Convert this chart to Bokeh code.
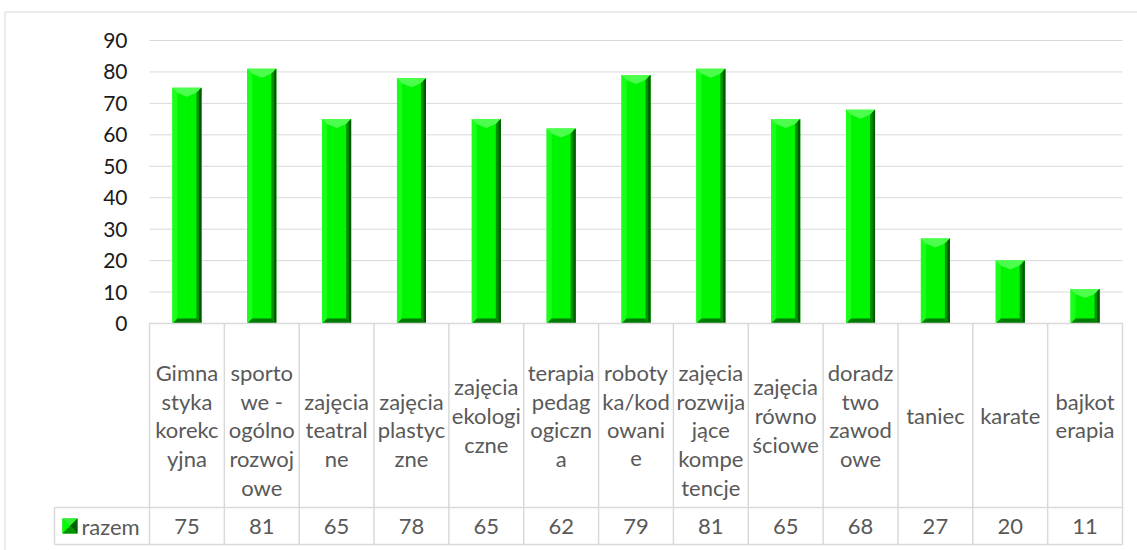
from bokeh.plotting import figure
from bokeh.models import Range1d, LinearAxis, FixedTicker
from bokeh.embed import file_html
from bokeh.resources import INLINE

# ---------------- data ----------------
categories = [
    "Gimna\nstyka\nkorekc\nyjna",
    "\nsporto\nwe -\nogólno\nrozwoj\nowe",
    "\nzajęcia\nteatral\nne",
    "\nzajęcia\nplastyc\nzne",
    "zajęcia\nekologi\nczne",
    "terapia\npedag\nogiczn\na",
    "roboty\nka/kod\nowani\ne",
    "\nzajęcia\nrozwija\njące\nkompe\ntencje",
    "zajęcia\nrówno\nściowe",
    "doradz\ntwo\nzawod\nowe",
    "taniec",
    "karate",
    "bajkot\nerapia",
]
series_name = "razem"
values = [75, 81, 65, 78, 65, 62, 79, 81, 65, 68, 27, 20, 11]
y_ticks = [0, 10, 20, 30, 40, 50, 60, 70, 80, 90]

# ---------------- layout (page pixels) ----------------
FIG_LEFT, FIG_TOP = 0, 0
W, H = 1137, 550
PA_L, PA_R = 149, 1122      # plot area left/right
Y0_PX, Y90_PX = 323, 40     # pixel rows of value 0 and 90
n = len(values)
ppx = (PA_R - PA_L) / n
ppy = (Y0_PX - Y90_PX) / (y_ticks[-1] - y_ticks[0])


def X(px):
    return (px - PA_L) / ppx


def Y(py):
    return (Y0_PX - py) / ppy


FONT = "Lato"
GRID = "#d9d9d9"
TXT = "#595959"

p = figure(
    width=W, height=H,
    x_range=Range1d(X(FIG_LEFT), X(FIG_LEFT + W)),
    y_range=Range1d(Y(FIG_TOP + H), Y(FIG_TOP)),
    output_backend="svg", toolbar_location=None,
    x_axis_location=None, y_axis_location=None,
    min_border=0,
)
p.outline_line_color = None
p.background_fill_color = "white"
p.border_fill_color = "white"
p.grid.visible = False

# outer chart border (left + top)
p.segment(x0=[X(4.5), X(4.5)], y0=[Y(11.5), Y(11.5)],
          x1=[X(4.5), X(FIG_LEFT + W + 5)], y1=[Y(FIG_TOP + H + 5), Y(11.5)],
          line_color=GRID, line_width=1)

# gridlines
p.segment(x0=[0] * len(y_ticks), x1=[n] * len(y_ticks), y0=y_ticks, y1=y_ticks,
          line_color=GRID, line_width=1)

# y axis labels
yax = LinearAxis(fixed_location=0, ticker=FixedTicker(ticks=y_ticks))
yax.axis_line_color = None
yax.major_tick_line_color = None
yax.minor_tick_line_color = None
yax.major_tick_in = 0
yax.major_tick_out = 0
yax.major_label_standoff = 22
yax.major_label_text_font = FONT
yax.major_label_text_font_size = "21px"
yax.major_label_text_color = "#1a1a1a"
p.add_layout(yax, "left")

# ---------------- bars with bevel ----------------
BW = 29 / ppx
bx = 5 / ppx
by = 5 / ppy
xc = [i + 0.5 for i in range(n)]
p.vbar(x=xc, top=values, bottom=0, width=BW, fill_color="#00f500", line_color=None)

left_x, left_y, top_x, top_y = [], [], [], []
right_x, right_y, rout_x, rout_y, bot_x, bot_y = [], [], [], [], [], []
for c, v in zip(xc, values):
    x0, x1, y0, y1 = c - BW / 2, c + BW / 2, 0, v
    left_x.append([x0, x0 + bx, x0 + bx, x0]); left_y.append([y0, y0 + by, y1 - by, y1])
    top_x.append([x0, x1, x1 - bx, c, x0 + bx]); top_y.append([y1, y1, y1 - by, y1 - 1.8 * by, y1 - by])
    right_x.append([x1, x1 - bx, x1 - bx, x1]); right_y.append([y0, y0 + by, y1 - by, y1])
    rout_x.append([x1, x1 - bx * 0.45, x1 - bx * 0.45, x1]); rout_y.append([y0, y0 + by * 0.45, y1 - by * 0.45, y1])
    bot_x.append([x0, x1, x1 - bx, x0 + bx]); bot_y.append([y0, y0, y0 + by, y0 + by])
p.patches(left_x, left_y, fill_color="#19ff19", line_color=None)
p.patches(top_x, top_y, fill_color="#4cff4c", line_color=None)
p.patches(right_x, right_y, fill_color="#009000", line_color=None)
p.patches(rout_x, rout_y, fill_color="#005a00", line_color=None)
p.patches(bot_x, bot_y, fill_color="#007a00", line_color=None)

# ---------------- data table ----------------
ROW_SEP, TBL_BOT, LEG_L = 507, 544, 54
# verticals
p.segment(x0=list(range(n + 1)), x1=list(range(n + 1)),
          y0=[0] * (n + 1), y1=[Y(TBL_BOT)] * (n + 1), line_color=GRID, line_width=1.5)
p.segment(x0=[X(LEG_L)], x1=[X(LEG_L)], y0=[Y(ROW_SEP)], y1=[Y(TBL_BOT)], line_color=GRID, line_width=1.5)
# horizontals
p.segment(x0=[0, X(LEG_L), X(LEG_L)], x1=[n, n, n], y0=[0, Y(ROW_SEP), Y(TBL_BOT)],
          y1=[0, Y(ROW_SEP), Y(TBL_BOT)], line_color=GRID, line_width=1.5)

# category labels (wrapped lines, centred in the cell)
CAT_MID, LINE_H = 415, 28.7
lx, ly, lt = [], [], []
for i, lab in enumerate(categories):
    lines = lab.split("\n")
    m = len(lines)
    for k, s in enumerate(lines):
        if s:
            lx.append(i + 0.5)
            ly.append(Y(CAT_MID + (k - (m - 1) / 2) * LINE_H))
            lt.append(s)
p.text(x=lx, y=ly, text=lt, text_align="center", text_baseline="middle",
       text_font={"value": FONT}, text_font_size="22px", text_color=TXT)

# values row
VAL_MID = 525.5
p.text(x=xc, y=[Y(VAL_MID)] * n, text=[str(v) for v in values], text_align="center",
       text_baseline="middle", text_font={"value": FONT}, text_font_size="22px", text_color=TXT)

# legend key + series name
kx0, kx1, ky0, ky1 = X(62), X(77), Y(533), Y(518)
kcx, kcy = (kx0 + kx1) / 2, (ky0 + ky1) / 2
p.patches(
    [[kx0, kx1, kx1, kx0], [kx0, kx0, kcx], [kx0, kx1, kcx], [kx1, kx1, kcx], [kx0, kx1, kcx]],
    [[ky0, ky0, ky1, ky1], [ky0, ky1, kcy], [ky1, ky1, kcy], [ky0, ky1, kcy], [ky0, ky0, kcy]],
    fill_color=["#00c800", "#00ff00", "#33ee33", "#006000", "#009000"], line_color=None)
p.text(x=[X(81)], y=[Y(VAL_MID)], text=[series_name], text_align="left", text_baseline="middle",
       text_font={"value": FONT}, text_font_size="22px", text_color=TXT)

open("out.html", "w").write(file_html(p, INLINE))
